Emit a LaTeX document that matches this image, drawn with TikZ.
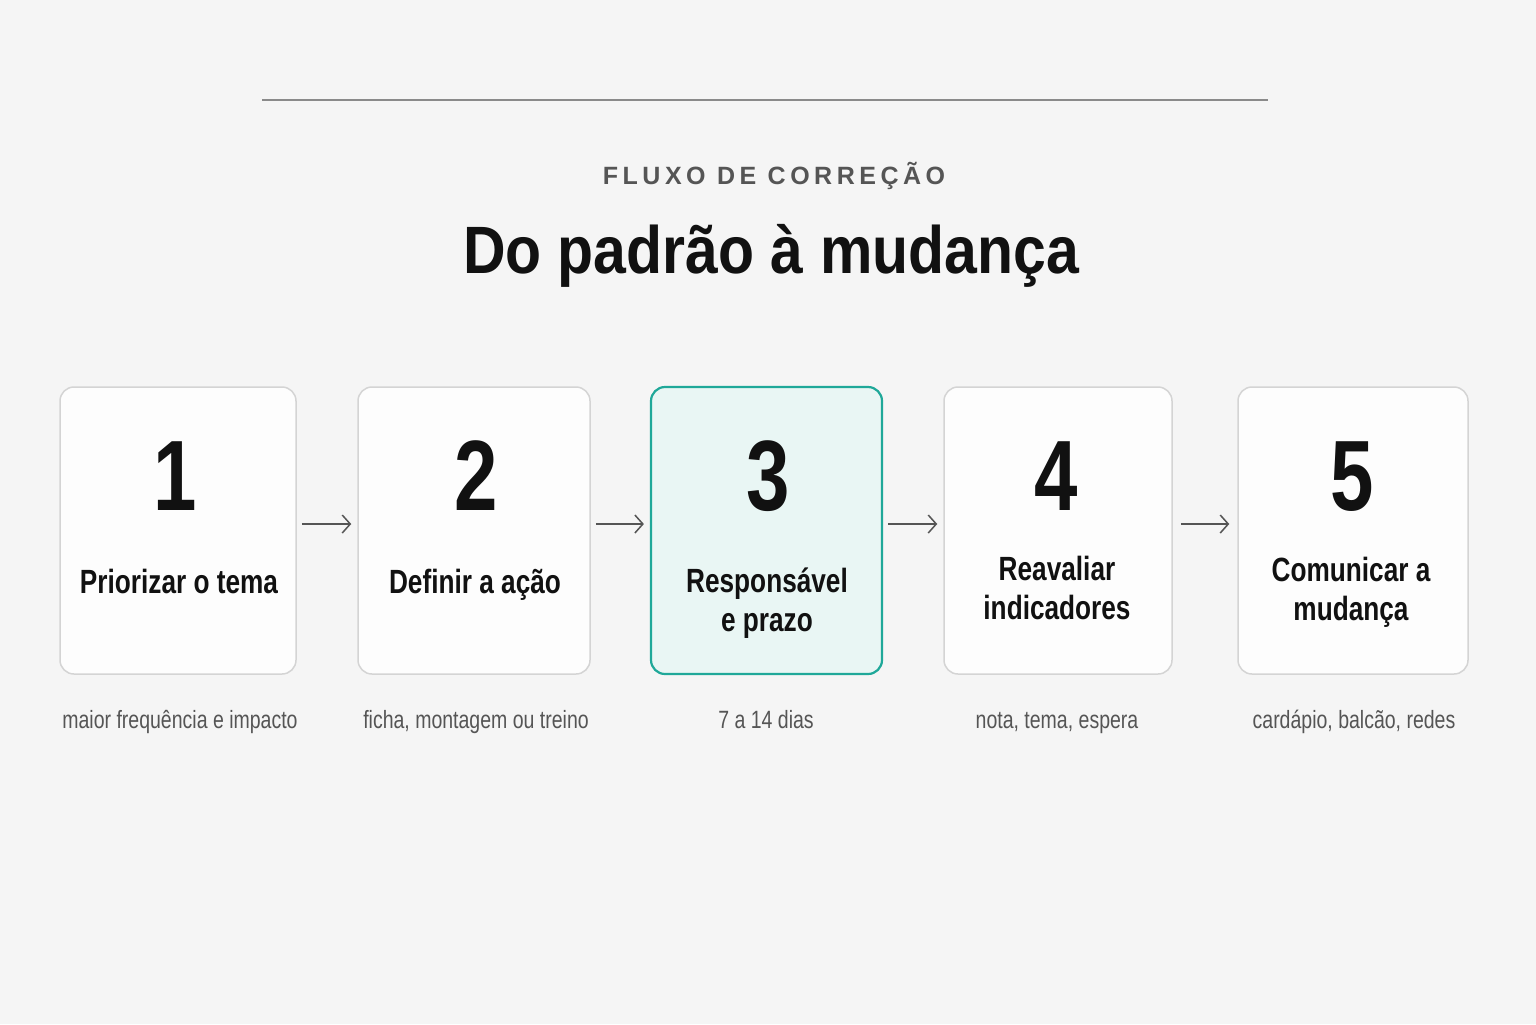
\documentclass[tikz,border=0pt]{standalone}
\usepackage{fontspec}
\setmainfont{Liberation Sans}
\newfontfamily\titlefont[FakeStretch=0.88]{Liberation Sans}
\newfontfamily\condfont[FakeStretch=0.78]{Liberation Sans}
\newfontfamily\kickerfont[LetterSpace=18]{Liberation Sans}
\usetikzlibrary{arrows.meta}
\definecolor{bg}{HTML}{F5F5F5}
\definecolor{cardfill}{HTML}{FDFDFD}
\definecolor{cardline}{HTML}{D4D4D4}
\definecolor{teal}{HTML}{1FA899}
\definecolor{tealfill}{HTML}{E9F6F4}
\definecolor{subgray}{HTML}{555555}
\definecolor{rulegray}{HTML}{8A8A8A}
\definecolor{ink}{HTML}{111111}
\tikzset{
  card/.style={draw=cardline, line width=0.75pt, fill=cardfill, rounded corners=7pt, minimum height=143.5pt, inner sep=0pt},
  hicard/.style={card, draw=teal, fill=tealfill, line width=1.1pt},
  numtxt/.style={anchor=base, inner sep=0pt, text=ink, font=\condfont\bfseries\fontsize{50}{50}\selectfont},
  labtxt/.style={anchor=base, inner sep=0pt, text=ink, align=center, font=\condfont\bfseries\fontsize{16.8}{19.5}\selectfont},
  subtxt/.style={anchor=base, inner sep=0pt, text=subgray, font=\condfont\fontsize{12.5}{14}\selectfont},
  flowarrow/.style={draw=subgray, line width=0.75pt, -{Straight Barb[length=4pt,width=9pt]}}
}
\begin{document}
\begin{tikzpicture}[x=0.5pt,y=-0.5pt]
\fill[bg] (0,0) rectangle (1536,1024);
\useasboundingbox (0,0) rectangle (1536,1024);

% top rule
\coordinate (ruleL) at (262,100);
\coordinate (ruleR) at (1268,100);
\draw[rulegray, line width=0.75pt] (ruleL) -- (ruleR);

% headings
\node[anchor=base, inner sep=0pt, text=subgray, font=\kickerfont\bfseries\fontsize{12.5}{14}\selectfont] (kicker) at (774,184) {FLUXO DE CORREÇÃO};
\node[anchor=base, inner sep=0pt, text=ink, font=\titlefont\bfseries\fontsize{33.5}{36}\selectfont] (title) at (771,273) {Do padrão à mudança};

% cards
\node[card, minimum width=118pt] (b1) at (178,530.5) {};
\node[card, minimum width=116pt] (b2) at (474,530.5) {};
\node[hicard, minimum width=115.5pt] (b3) at (766.5,530.5) {};
\node[card, minimum width=114pt] (b4) at (1058,530.5) {};
\node[card, minimum width=115pt] (b5) at (1353,530.5) {};

% numbers
\node[numtxt] (n1) at (175,510) {1};
\node[numtxt] (n2) at (476,510) {2};
\node[numtxt] (n3) at (768,510) {3};
\node[numtxt] (n4) at (1056,510) {4};
\node[numtxt] (n5) at (1352,510) {5};

% labels (two-line labels: base = last line)
\node[labtxt] (l1) at (179,593) {Priorizar o tema};
\node[labtxt] (l2) at (475,593) {Definir a ação};
\node[labtxt] (l3) at (767,631) {Responsável\\e prazo};
\node[labtxt] (l4) at (1057,619) {Reavaliar\\indicadores};
\node[labtxt] (l5) at (1351,620) {Comunicar a\\mudança};

% captions
\node[subtxt] (s1) at (180,728) {maior frequência e impacto};
\node[subtxt] (s2) at (476,728) {ficha, montagem ou treino};
\node[subtxt] (s3) at (766,728) {7 a 14 dias};
\node[subtxt] (s4) at (1057,728) {nota, tema, espera};
\node[subtxt] (s5) at (1354,728) {cardápio, balcão, redes};

% arrows
\draw[flowarrow, shorten <=2.5pt, shorten >=3pt] ([yshift=3.25pt]b1.east) -- ([yshift=3.25pt]b2.west);
\draw[flowarrow, shorten <=2.5pt, shorten >=3pt] ([yshift=3.25pt]b2.east) -- ([yshift=3.25pt]b3.west);
\draw[flowarrow, shorten <=2.5pt, shorten >=3pt] ([yshift=3.25pt]b3.east) -- ([yshift=3.25pt]b4.west);
\draw[flowarrow, shorten <=4pt, shorten >=4pt] ([yshift=3.25pt]b4.east) -- ([yshift=3.25pt]b5.west);
\end{tikzpicture}
\end{document}
